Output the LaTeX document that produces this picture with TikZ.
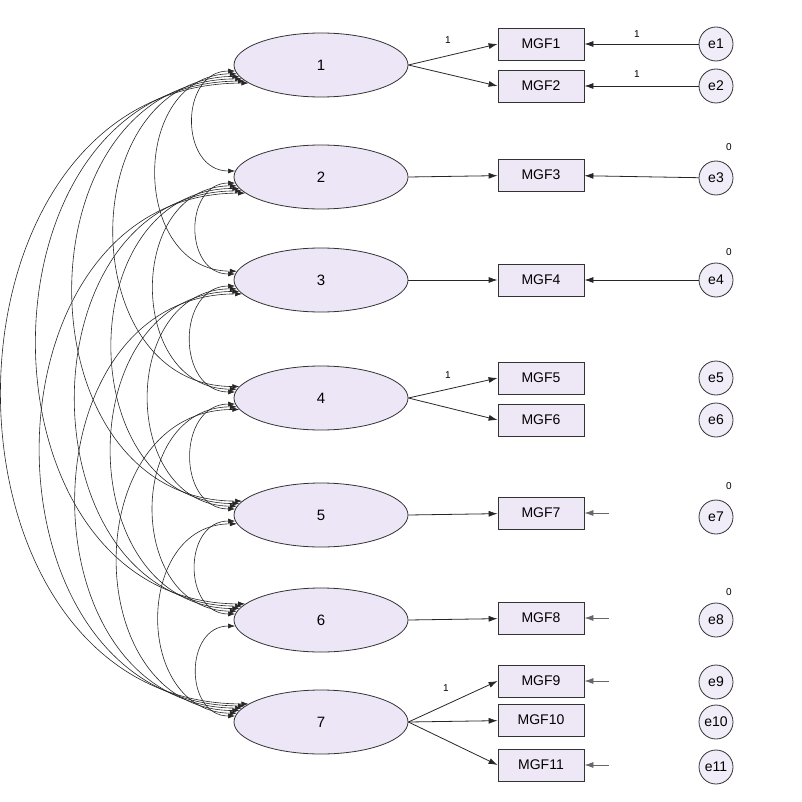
\documentclass[tikz,border=0pt]{standalone}
\usepackage{fontspec}
\setmainfont{Liberation Sans}
\usetikzlibrary{shapes.geometric,arrows.meta}
\begin{document}
\begin{tikzpicture}[x=1pt,y=-1pt,
  lat/.style={ellipse,draw=black!80,thick,fill={rgb,255:red,236;green,230;blue,246},minimum width=174pt,minimum height=64pt,font=\fontsize{15}{17}\selectfont},
  obs/.style={rectangle,draw=black!80,thick,fill={rgb,255:red,238;green,232;blue,246},minimum width=86pt,minimum height=32pt,font=\fontsize{14}{16}\selectfont},
  err/.style={circle,draw=black!80,thick,fill={rgb,255:red,240;green,236;blue,248},minimum size=34pt,inner sep=0pt,font=\fontsize{14}{16}\selectfont},
  arr/.style={-{Latex[length=9pt,width=6pt]},thick,black!85},
  cov/.style={{Latex[length=7pt,width=5pt]}-{Latex[length=7pt,width=5pt]},semithick,black!85},
  lab/.style={font=\fontsize{10}{12}\selectfont,inner sep=1pt}]
\useasboundingbox (0,0) rectangle (802,802);
\node[lat] (f1) at (321,65) {1};
\node[lat] (f2) at (321,177) {2};
\node[lat] (f3) at (321,280) {3};
\node[lat] (f4) at (321,398) {4};
\node[lat] (f5) at (321,515) {5};
\node[lat] (f6) at (321,620) {6};
\node[lat] (f7) at (321,722) {7};
\foreach \n/\y in {1/44,2/86,3/175,4/280,5/378,6/420,7/513,8/618,9/681,10/720,11/765}{
  \node[obs] (m\n) at (541,\y) {MGF\n};}
\foreach \n/\y in {1/44,2/86,3/178,4/280,5/378,6/420,7/517,8/620,9/682,10/722,11/767}{
  \node[err] (e\n) at (716,\y) {e\n};}
% loadings
\draw[arr] (f1.east) -- (m1.west); \draw[arr] (f1.east) -- (m2.west);
\draw[arr] (f2.east) -- (m3); \draw[arr] (f3.east) -- (m4);
\draw[arr] (f4.east) -- (m5.west); \draw[arr] (f4.east) -- (m6.west);
\draw[arr] (f5.east) -- (m7); \draw[arr] (f6.east) -- (m8);
\draw[arr] (f7.east) -- (m9.west); \draw[arr] (f7.east) -- (m10); \draw[arr] (f7.east) -- (m11.west);
% errors
\foreach \n in {1,2,3,4}{\draw[arr] (e\n) -- (m\n);}
\foreach \n in {7,8,9,11}{\coordinate (s\n) at ([xshift=25pt]m\n.east); \draw[arr,black!60] (s\n) -- (m\n);}
% labels
\node[lab] (l1) at (448,40) {1};
\node[lab] (l2) at (448,375) {1};
\node[lab] (l3) at (446,688) {1};
\node[lab] (l4) at (637,34) {1};
\node[lab] (l5) at (637,74) {1};
\foreach \n/\y in {3/147,4/252,7/486,8/592}{\node[lab] (z\n) at (729,\y) {0};}
% covariances
\foreach \i/\yi in {1/65,2/177,3/280,4/398,5/515,6/620,7/722}{
  \foreach \j/\yj in {1/65,2/177,3/280,4/398,5/515,6/620,7/722}{
    \ifnum\i<\j
      \pgfmathsetmacro{\c}{0.5*(\yj-\yi)}
      \pgfmathsetmacro{\aa}{182+2*(\j-\i)}
      \pgfmathsetmacro{\ab}{178-2*(\j-\i)}
      \draw[cov] (f\i.\aa) .. controls ([xshift=-\c pt]f\i.\aa) and ([xshift=-\c pt]f\j.\ab) .. (f\j.\ab);
    \fi}}
\end{tikzpicture}
\end{document}
